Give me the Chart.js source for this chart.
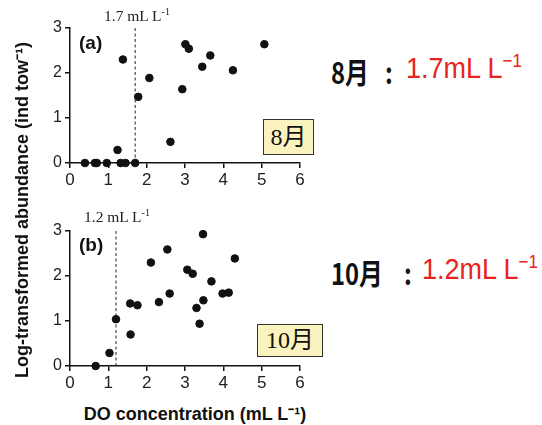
<!DOCTYPE html>
<html>
<head>
<meta charset="utf-8">
<script src="https://cdn.jsdelivr.net/npm/chart.js@4"></script>
<style>
  body { margin: 0; background: #fff; }
  #wrap { position: relative; width: 542px; height: 425px; overflow: hidden; font-family: "Liberation Sans", Arial, sans-serif; }
  canvas { position: absolute; left: 0; }
  .lbl { position: absolute; white-space: nowrap; }
  .thr { font-family: "Liberation Serif", serif; font-size: 15.5px; color: #222; }
  .thr sup { font-size: 10px; }
  .panel { font-weight: bold; font-size: 19px; color: #111; }
  .box { position: absolute; background: #fbf3bf; border: 1px solid #333; font-family: "Liberation Serif", "Noto Sans CJK JP", serif; font-size: 24px; color: #111; text-align: center; box-sizing: border-box; }
  .k { font-family: "Noto Sans CJK JP", sans-serif; font-weight: bold; color: #111; font-size: 29px; transform: scaleX(0.82); transform-origin: left center; }
  .r { font-family: "Liberation Sans", Arial, sans-serif; color: #e8231d; font-size: 27px; transform: scaleY(1.1); transform-origin: left center; }
  .r sup { font-size: 17px; }
</style>
</head>
<body>
<div id="wrap">
  <canvas id="chartA" width="320" height="200" style="top:0"></canvas>
  <canvas id="chartB" width="320" height="200" style="top:200px"></canvas>

  <div class="lbl thr" style="left:104px; top:6px;">1.7 mL L<sup>-1</sup></div>
  <div class="lbl thr" style="left:84px; top:207px;">1.2 mL L<sup>-1</sup></div>
  <div class="lbl panel" style="left:79px; top:32px;">(a)</div>
  <div class="lbl panel" style="left:79px; top:234px;">(b)</div>
  <div class="box" style="left:263px; top:119px; width:51px; height:36px; line-height:34px;">8月</div>
  <div class="box" style="left:257px; top:324px; width:66px; height:33px; line-height:31px;">10月</div>

  <div class="lbl" style="left:21px; top:210px; transform: translate(-50%,-50%) rotate(-90deg); font-weight:bold; font-size:18px; color:#111;">Log-transformed abundance (ind tow⁻¹)</div>
  <div class="lbl" style="left:195px; top:413px; transform: translate(-50%,-50%); font-weight:bold; font-size:18px; color:#111;">DO concentration (mL L⁻¹)</div>

  <div class="lbl k" style="left:331px; top:50px;">8月</div>
  <div class="lbl k" style="left:385px; top:50px;">:</div>
  <div class="lbl r" style="left:406px; top:52px;">1.7mL L<sup>−1</sup></div>
  <div class="lbl k" style="left:331px; top:251px;">10月</div>
  <div class="lbl k" style="left:404px; top:251px;">:</div>
  <div class="lbl r" style="left:422px; top:253px;">1.2mL L<sup>−1</sup></div>
</div>
<script>
// August (a)
const augDO = [0.39, 0.65, 0.70, 0.96, 1.24, 1.32, 1.38, 1.45, 1.70, 1.78, 2.07, 2.62, 2.93, 3.01, 3.10, 3.45, 3.66, 4.25, 5.07];
const augAbund = [0, 0, 0, 0, 0.29, 0, 2.30, 0, 0, 1.47, 1.89, 0.47, 1.64, 2.64, 2.54, 2.14, 2.39, 2.06, 2.64];
const augThreshold = 1.7;

// October (b)
const octDO = [0.67, 1.03, 1.20, 1.57, 1.58, 1.76, 2.11, 2.32, 2.54, 2.60, 3.06, 3.20, 3.30, 3.38, 3.47, 3.48, 3.69, 3.98, 4.14, 4.30];
const octAbund = [0, 0.29, 1.04, 1.39, 0.70, 1.35, 2.30, 1.42, 2.59, 1.61, 2.14, 2.05, 1.29, 0.94, 2.93, 1.46, 1.88, 1.61, 1.63, 2.39];
const octThreshold = 1.2;

const xTicks = [0, 1, 2, 3, 4, 5, 6];
const yTicks = [0, 1, 2, 3];

function makeChart(id, xs, ys, thr, topPad, xHeight) {
    const pts = xs.map((x, i) => ({ x: x, y: ys[i] }));
    const axisStyle = {
        border: { display: true, color: '#111', width: 1.5 },
        grid: { display: true, drawOnChartArea: false, drawTicks: true, tickLength: 5, color: '#111', lineWidth: 1.5 }
    };
    return new Chart(document.getElementById(id), {
        type: 'scatter',
        data: {
            datasets: [{
                data: pts,
                backgroundColor: '#111',
                borderColor: '#111',
                pointRadius: 3.8,
                clip: false
            }, {
                type: 'line',
                data: [{ x: thr, y: 0 }, { x: thr, y: yTicks[yTicks.length - 1] }],
                borderColor: '#222',
                borderWidth: 1,
                borderDash: [3, 2.5],
                pointRadius: 0,
                clip: false
            }]
        },
        options: {
            responsive: false,
            animation: false,
            events: [],
            layout: { padding: { top: topPad, right: 20, left: 0, bottom: 0 } },
            plugins: { legend: { display: false }, tooltip: { enabled: false } },
            scales: {
                x: Object.assign({
                    type: 'linear', min: xTicks[0], max: xTicks[xTicks.length - 1],
                    afterBuildTicks: s => { s.ticks = xTicks.map(v => ({ value: v })); },
                    afterFit: s => { s.height = xHeight; },
                    ticks: { color: '#222', padding: 2, font: { family: 'Liberation Sans', size: 17 } }
                }, axisStyle),
                y: Object.assign({
                    type: 'linear', min: yTicks[0], max: yTicks[yTicks.length - 1],
                    afterBuildTicks: s => { s.ticks = yTicks.map(v => ({ value: v })); },
                    afterFit: s => { s.width = 70; },
                    ticks: { color: '#222', padding: 3, font: { family: 'Liberation Sans', size: 16 } }
                }, axisStyle)
            }
        }
    });
}

makeChart('chartA', augDO, augAbund, augThreshold, 28, 37);
makeChart('chartB', octDO, octAbund, octThreshold, 31, 34);
</script>
</body>
</html>
